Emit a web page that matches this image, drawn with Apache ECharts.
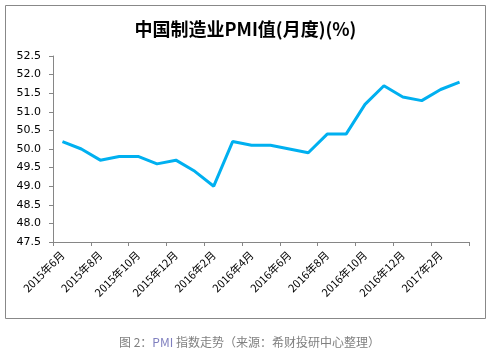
<!DOCTYPE html>
<html>
<head>
<meta charset="utf-8">
<script src="https://cdn.jsdelivr.net/npm/echarts@6/dist/echarts.min.js"></script>
<style>
  html, body { margin: 0; padding: 0; background: #fff; }
  #chart { width: 491px; height: 352px; }
</style>
</head>
<body>
<div id="chart"></div>
<script>
const months = [
  '2015年6月', '2015年7月', '2015年8月', '2015年9月', '2015年10月', '2015年11月', '2015年12月',
  '2016年1月', '2016年2月', '2016年3月', '2016年4月', '2016年5月', '2016年6月', '2016年7月',
  '2016年8月', '2016年9月', '2016年10月', '2016年11月', '2016年12月',
  '2017年1月', '2017年2月', '2017年3月'
];
const pmi = [
  50.2, 50.0, 49.7, 49.8, 49.8, 49.6, 49.7,
  49.4, 49.0, 50.2, 50.1, 50.1, 50.0, 49.9,
  50.4, 50.4, 51.2, 51.7, 51.4,
  51.3, 51.6, 51.8
];
const titleText = '中国制造业PMI值(月度)(%)';

const chart = echarts.init(document.getElementById('chart'), null, { renderer: 'canvas' });

chart.setOption({
  backgroundColor: '#fff',
  animation: false,
  title: [
    {
      text: titleText,
      left: 'center',
      top: 15,
      textStyle: { fontFamily: 'Noto Sans CJK SC', fontWeight: 'bold', fontSize: 18, color: '#000' }
    },
    {
      text: '{g|图 2：}{b|PMI}{g| 指数走势（来源：希财投研中心整理）}',
      left: 114,
      top: 331,
      textStyle: {
        fontWeight: 'normal',
        rich: {
          g: { fontFamily: 'Noto Sans CJK SC', fontWeight: 'normal', fontSize: 12, color: '#7f7f7f' },
          b: { fontFamily: 'Noto Sans CJK SC', fontWeight: 'normal', fontSize: 12, color: '#7f7fbf' }
        }
      }
    }
  ],
  graphic: [
    {
      type: 'rect',
      shape: { x: 5.5, y: 5.5, width: 480, height: 313 },
      style: { fill: 'none', stroke: '#888', lineWidth: 1 },
      silent: true
    }
  ],
  grid: { left: 53, right: 22, top: 56, bottom: 110 },
  xAxis: {
    type: 'category',
    data: months,
    boundaryGap: true,
    axisLine: { lineStyle: { color: '#868686', width: 1 } },
    axisTick: { show: true, interval: 1, length: 4, lineStyle: { color: '#868686' } },
    axisLabel: {
      interval: 1,
      rotate: 45,
      fontFamily: 'Noto Sans CJK SC',
      fontSize: 11,
      color: '#000',
      margin: 11
    },
    splitLine: { show: false }
  },
  yAxis: {
    type: 'value',
    min: 47.5,
    max: 52.5,
    interval: 0.5,
    axisLine: { show: true, lineStyle: { color: '#868686', width: 1 } },
    axisTick: { show: true, length: 4, lineStyle: { color: '#868686' } },
    axisLabel: {
      fontFamily: 'Verdana, DejaVu Sans',
      fontSize: 11,
      color: '#000',
      margin: 12,
      formatter: (v) => v.toFixed(1)
    },
    splitLine: { show: false }
  },
  series: [
    {
      type: 'line',
      data: pmi,
      symbol: 'none',
      lineStyle: { color: '#00B0F0', width: 3 },
      itemStyle: { color: '#00B0F0' }
    }
  ]
});
</script>
</body>
</html>
